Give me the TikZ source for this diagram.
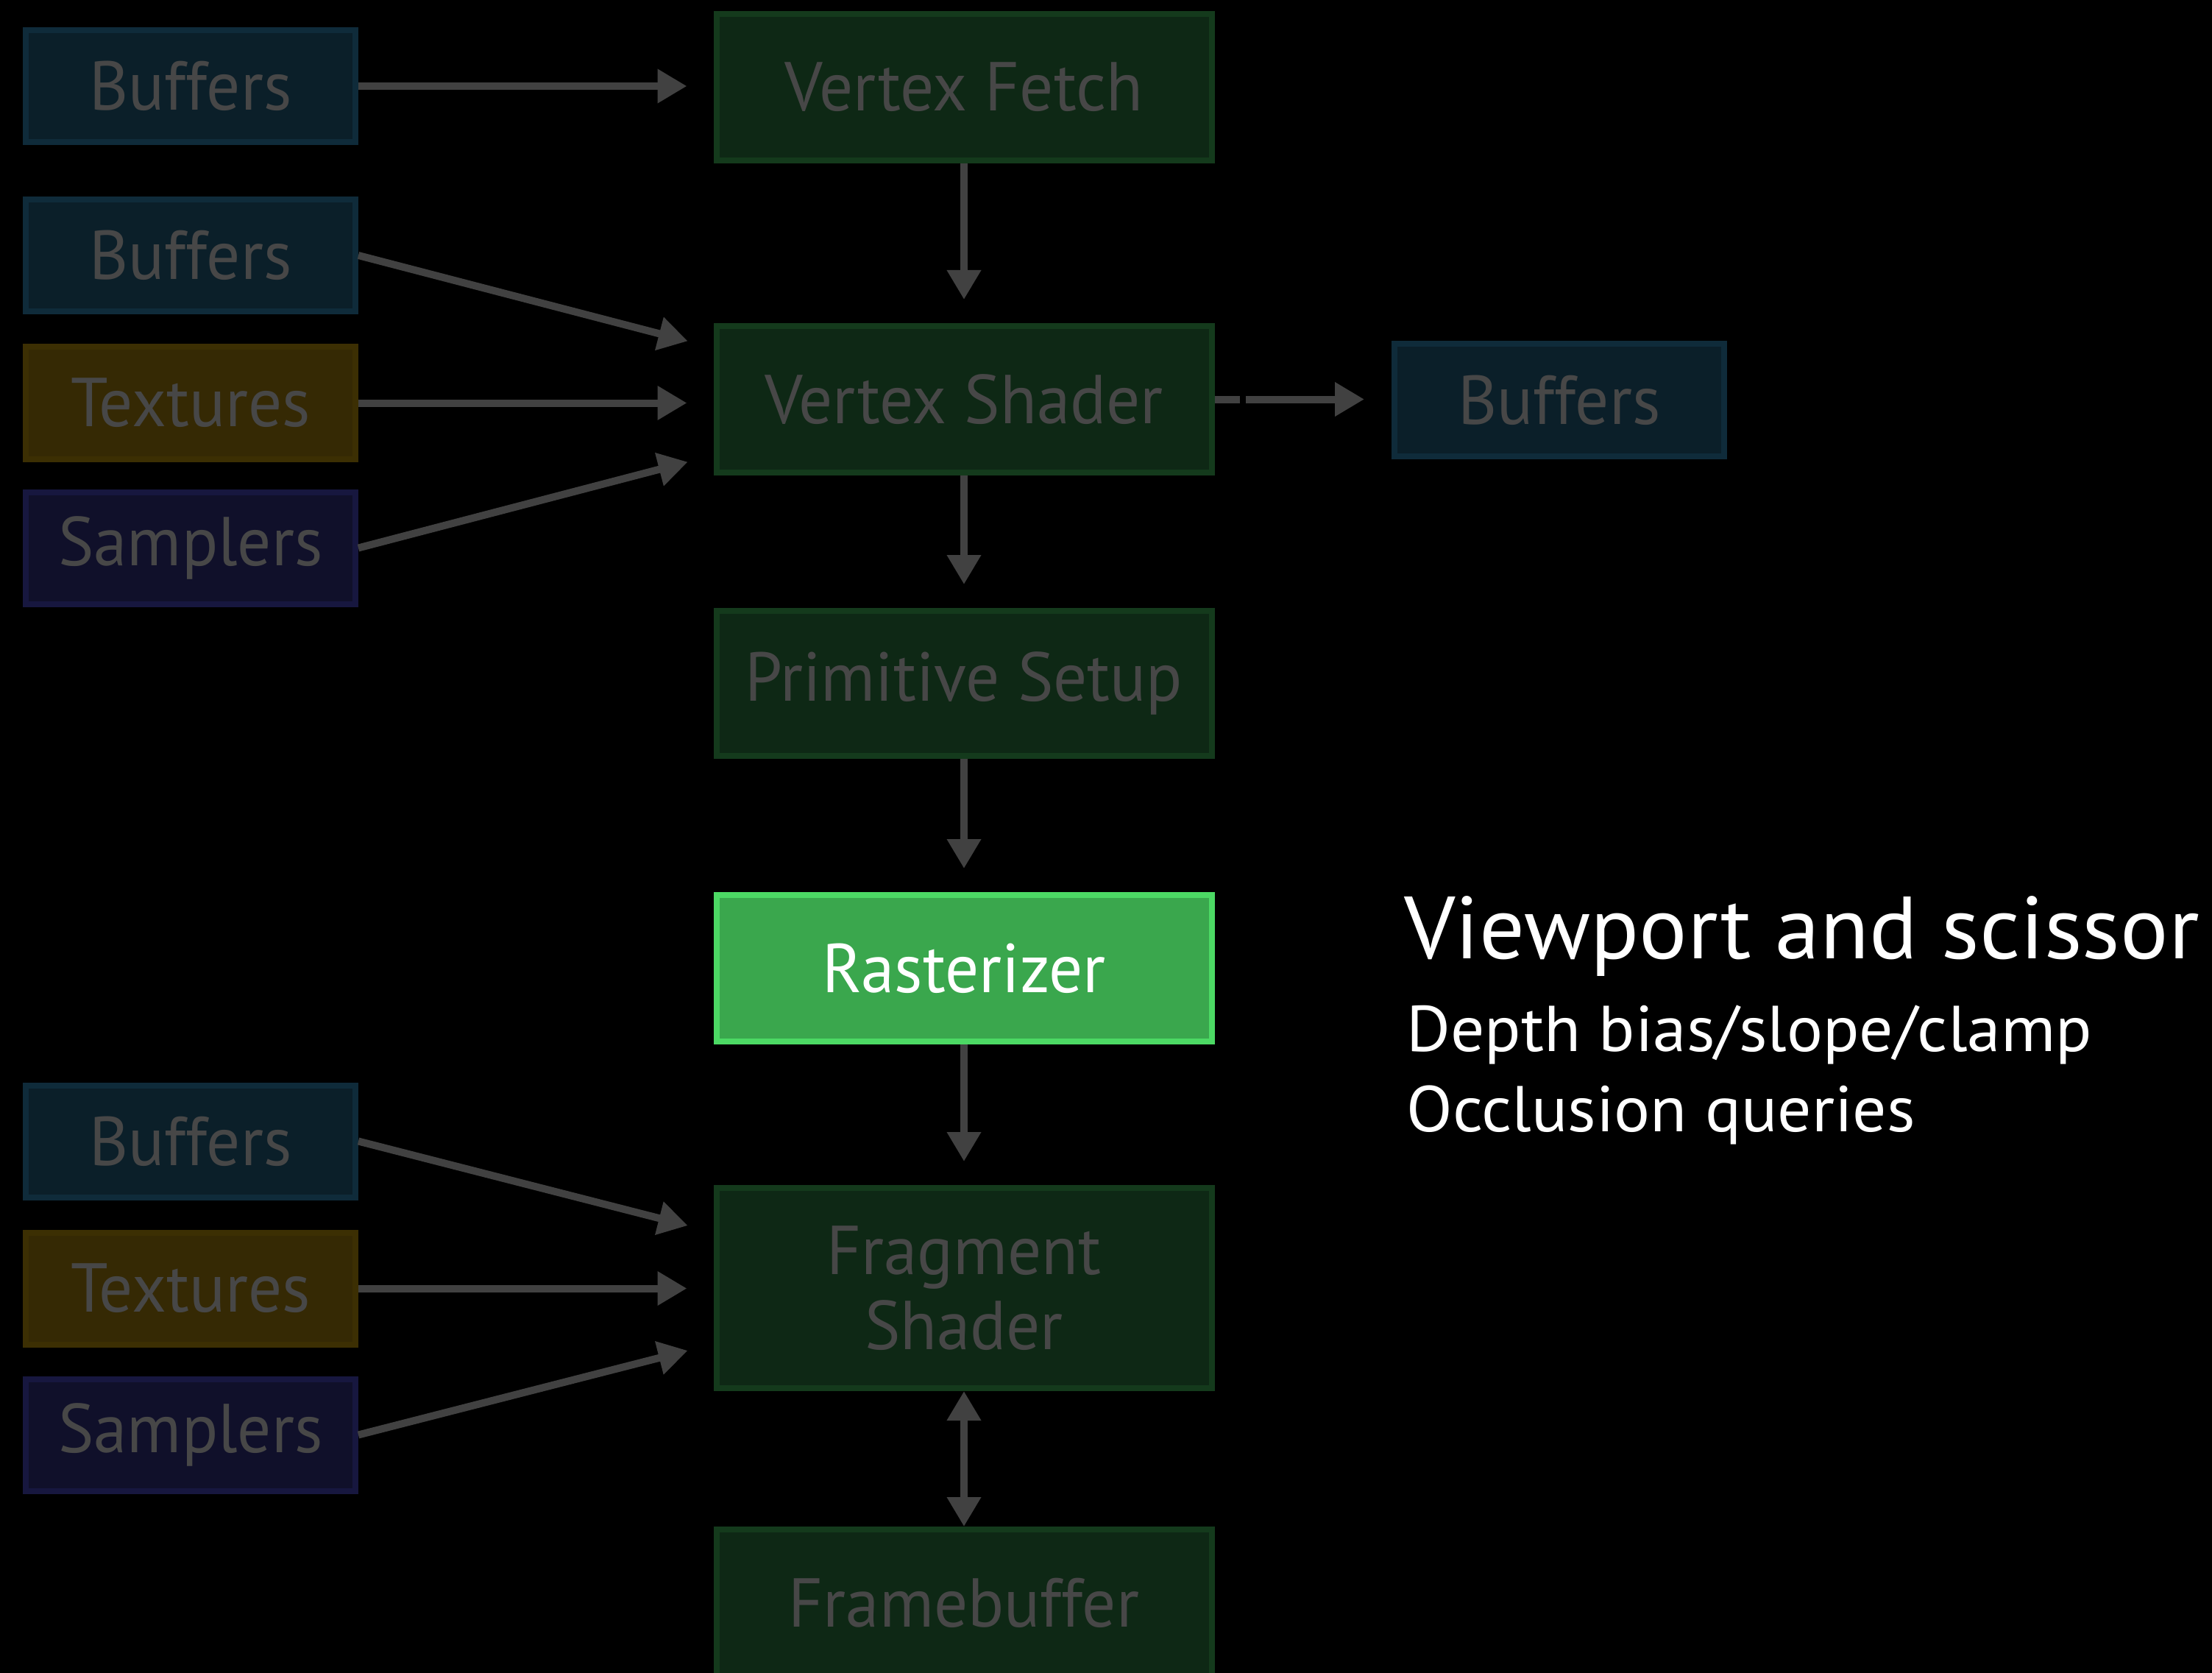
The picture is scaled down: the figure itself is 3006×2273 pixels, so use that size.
\documentclass[tikz,border=0pt]{standalone}
\usepackage{fontspec}
\setmainfont[FakeStretch=0.97]{PT Sans}
\newfontfamily\notefont[FakeStretch=1.02]{PT Sans}
\newfontfamily\subnotefont[FakeStretch=1.04]{PT Sans}
\usetikzlibrary{arrows.meta,calc}

% palette
\definecolor{bufFill}{HTML}{0B1F29}
\definecolor{bufLine}{HTML}{0F2B3A}
\definecolor{texFill}{HTML}{352904}
\definecolor{texLine}{HTML}{3C2F03}
\definecolor{smpFill}{HTML}{10102A}
\definecolor{smpLine}{HTML}{17173F}
\definecolor{stageFill}{HTML}{0E2815}
\definecolor{stageLine}{HTML}{143A1C}
\definecolor{activeFill}{HTML}{3AA74D}
\definecolor{activeLine}{HTML}{4CD964}
\definecolor{labelGrey}{HTML}{474747}
\definecolor{wireGrey}{HTML}{414141}

\tikzset{
  box/.style={draw, line width=4pt, inner sep=0pt, outer sep=2pt,
    font=\fontsize{47}{51}\selectfont, text=labelGrey, align=center},
  resbox/.style={box, minimum width=224pt, minimum height=76pt},
  bufbox/.style={resbox, fill=bufFill, draw=bufLine},
  texbox/.style={resbox, fill=texFill, draw=texLine},
  smpbox/.style={resbox, fill=smpFill, draw=smpLine},
  stagebox/.style={box, fill=stageFill, draw=stageLine,
    minimum width=336.5pt, minimum height=99.5pt},
  activebox/.style={stagebox, fill=activeFill, draw=activeLine, text=white},
  wire/.style={draw=wireGrey, line width=5pt, -{Triangle[length=20pt,width=22pt]}},
  twoway/.style={draw=wireGrey, line width=5pt,
    {Triangle[length=20pt,width=22pt]}-{Triangle[length=20pt,width=22pt]}},
  note/.style={anchor=base west, inner sep=0pt, text=white},
}

\begin{document}
\begin{tikzpicture}[x=0.5pt,y=-0.5pt]
  \fill[black] (0,0) rectangle (3006,2273);
  \useasboundingbox (0,0) rectangle (3006,2273);

  % pipeline stages
  \node[stagebox] (vf) at (1310,118.5) {Vertex Fetch};
  \node[stagebox] (vs) at (1310,542.5) {Vertex Shader};
  \node[stagebox, minimum height=98.5pt] (ps) at (1310,928.5) {Primitive Setup};
  \node[activebox] (rast) at (1310,1315.5) {Rasterizer};
  \node[stagebox, minimum height=136pt] (fs) at (1310,1750) {Fragment\\Shader};
  \node[stagebox] (fb) at (1310,2177.5) {Framebuffer};

  % resources
  \node[bufbox] (buf1) at (259,117) {Buffers};
  \node[bufbox] (buf2) at (259,347) {Buffers};
  \node[texbox] (tex1) at (259,547.5) {Textures};
  \node[smpbox] (smp1) at (259,744.5) {Samplers};
  \node[bufbox] (bufout) at (2119,543.5) {Buffers};
  \node[bufbox] (buf3) at (259,1550.5) {Buffers};
  \node[texbox] (tex2) at (259,1750.5) {Textures};
  \node[smpbox] (smp2) at (259,1949.5) {Samplers};

  % inputs
  \draw[wire, shorten >=18pt] (buf1.east) -- (buf1.east -| vf.west);
  \draw[wire, shorten >=18pt] (buf2.east) -- ($(vs.west)+(0,-70)$);
  \draw[wire, shorten >=18pt] (tex1.east) -- (tex1.east -| vs.west);
  \draw[wire, shorten >=18pt] (smp1.east) -- ($(vs.west)+(0,76)$);
  \draw[wire, shorten >=18pt] (buf3.east) -- ($(fs.west)+(0,-76)$);
  \draw[wire, shorten >=18pt] (tex2.east) -- (tex2.east -| fs.west);
  \draw[wire, shorten >=18pt] (smp2.east) -- ($(fs.west)+(0,76)$);

  % stage flow
  \draw[wire, shorten >=16pt] (vf.south) -- (vs.north);
  \draw[wire, shorten >=16pt] (vs.south) -- (ps.north);
  \draw[wire, shorten >=16pt] (ps.south) -- (rast.north);
  \draw[wire, shorten >=16pt] (rast.south) -- (fs.north);
  \draw[twoway] (fs.south) -- (fb.north);

  % stream-out
  \draw[wire, shorten >=18.5pt, dash pattern=on 17pt off 4pt on 400pt off 1pt]
    (vs.east) -- (vs.east -| bufout.west);

  % notes
  \node[note, font=\notefont\fontsize{60}{72}\selectfont] (n1) at (1908,1302) {Viewport and scissor};
  \node[note, font=\subnotefont\fontsize{44}{52}\selectfont] (n2) at (1911,1428) {Depth bias/slope/clamp};
  \node[note, font=\subnotefont\fontsize{44}{52}\selectfont] (n3) at (1911,1537) {Occlusion queries};
\end{tikzpicture}
\end{document}
